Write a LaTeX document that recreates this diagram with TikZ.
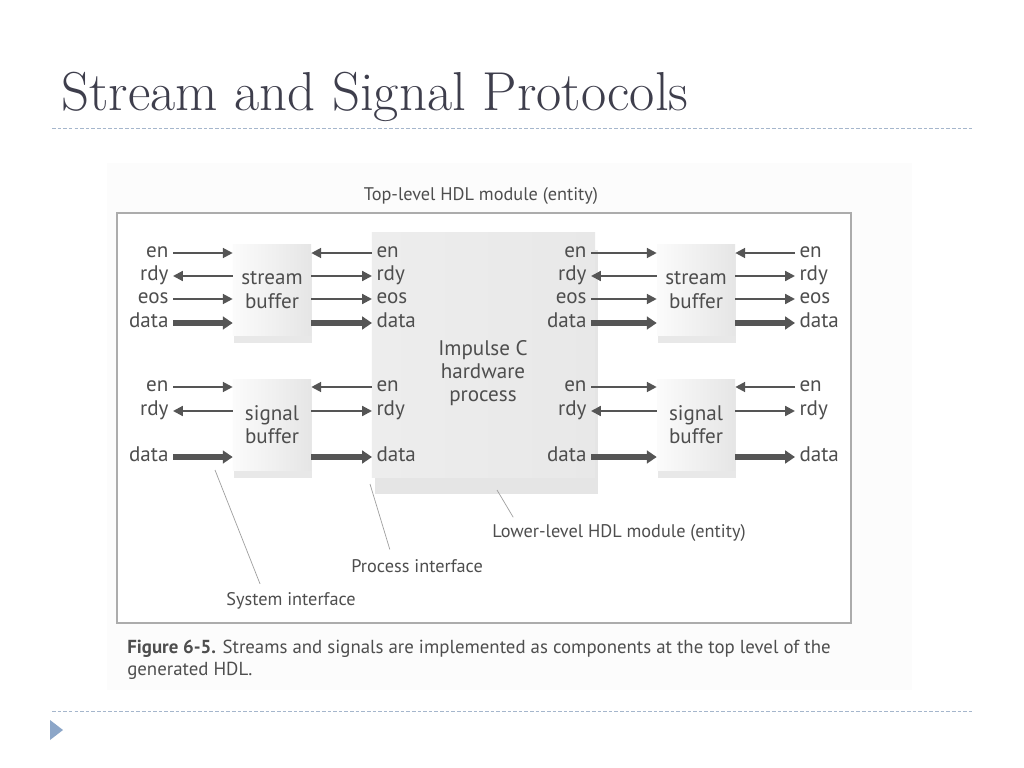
\documentclass[tikz,border=0pt]{standalone}
\usepackage{fontspec}
\newfontfamily\figsf{PT Sans}
\usetikzlibrary{positioning, arrows.meta, shadows, calc}
\definecolor{SlTitle}{RGB}{62,62,76}
\definecolor{SlRule}{RGB}{165,182,204}
\definecolor{SlBullet}{RGB}{140,166,200}
\definecolor{FigInk}{RGB}{78,78,78}
\definecolor{FigArrow}{RGB}{85,85,85}

\begin{document}
\begin{tikzpicture}[x=0.025cm, y=-0.025cm,
          lbl/.style={font=\figsf\fontsize{15}{16.5}\selectfont, text=FigInk,
                      inner ysep=1.5pt, inner xsep=3pt,
                      text height=10pt, text depth=3pt},
          note/.style={font=\figsf\fontsize{13}{15}\selectfont, text=FigInk,
                       inner sep=1.5pt, text height=10pt, text depth=3pt},
          buf/.style={rectangle, minimum width=1.95cm, minimum height=2.25cm,
                      align=center, left color=gray!3, right color=gray!20,
                      font=\figsf\fontsize{15}{16.5}\selectfont, text=FigInk,
                      drop shadow={shadow xshift=1pt, shadow yshift=-6pt,
                                   opacity=.18, fill=gray}},
          arr/.style={-{Triangle[length=7pt, width=7pt]}, draw=FigArrow,
                      line width=1.5pt},
          darr/.style={-{Triangle[length=7pt, width=9pt]}, draw=FigArrow,
                       line width=3.6pt},
          lead/.style={draw=gray!75, line width=0.5pt},
          rule/.style={draw=SlRule, line width=0.6pt, dash pattern=on 2.5pt off 1.5pt}
        ]
        \useasboundingbox (0,0) rectangle (1024,768);
        \fill[white] (0,0) rectangle (1024,768);

        % slide title and rules
        \node[anchor=west, font=\fontsize{39}{44}\selectfont, text=SlTitle,
              inner sep=0pt] (title) at (61,97) {Stream and Signal Protocols};
        \draw[rule] (52,128) -- (972,128);
        \draw[rule] (52,711) -- (972,711);
        \fill[SlBullet] (50,720) -- (63,730) -- (50,740) -- cycle;

        % scanned figure
        \fill[gray!2] (107,163) rectangle (912,690);
        \node[note] (toptxt) at (481,196) {Top-level HDL module (entity)};
        \node[draw=gray!65, line width=1.3pt, fill=white,
              minimum width=18.35cm, minimum height=10.25cm] (top) at (484,418) {};

        \node[rectangle, minimum width=5.575cm, minimum height=6.1cm,
              left color=gray!14, middle color=gray!4, right color=gray!18,
              drop shadow={shadow xshift=2pt, shadow yshift=-12pt,
                           opacity=.2, fill=gray}]
              (proc) at (483.5,355) {};
        \node[lbl, align=center, text height=, text depth=] (ptxt) at (483,373)
              {Impulse C\\hardware\\process};

        \node[buf] (sbl) at (272,290) {stream\\buffer};
        \node[buf] (gbl) at (272,425) {signal\\buffer};
        \node[buf] (sbr) at (696,290) {stream\\buffer};
        \node[buf] (gbr) at (696,425) {signal\\buffer};

        % port labels: a = system left, b = process left,
        % c = process right, d = system right
        \foreach \n/\t/\y in {en/en/253, rdy/rdy/276, eos/eos/299, data/data/323,
                              sen/en/387, srdy/rdy/411, sdata/data/457}{
          \node[lbl, anchor=east] (a\n) at (173,\y) {\t};
          \node[lbl, anchor=west] (b\n) at (372,\y) {\t};
          \node[lbl, anchor=east] (c\n) at (591,\y) {\t};
          \node[lbl, anchor=west] (d\n) at (795,\y) {\t};
        }

        % stream ports
        \foreach \n in {en, eos}{
          \draw[arr] (a\n.east) -- (a\n.east -| sbl.west);
          \draw[arr] (c\n.east) -- (c\n.east -| sbr.west);
        }
        \draw[arr] (ardy.east -| sbl.west) -- (ardy.east);
        \draw[arr] (crdy.east -| sbr.west) -- (crdy.east);
        \draw[darr] (adata.east) -- (adata.east -| sbl.west);
        \draw[darr] (cdata.east) -- (cdata.east -| sbr.west);

        \foreach \n in {rdy, eos}{
          \draw[arr] (b\n.west -| sbl.east) -- (b\n.west);
          \draw[arr] (d\n.west -| sbr.east) -- (d\n.west);
        }
        \draw[arr] (ben.west) -- (ben.west -| sbl.east);
        \draw[arr] (den.west) -- (den.west -| sbr.east);
        \draw[darr] (bdata.west -| sbl.east) -- (bdata.west);
        \draw[darr] (ddata.west -| sbr.east) -- (ddata.west);

        % signal ports
        \draw[arr] (asen.east) -- (asen.east -| gbl.west);
        \draw[arr] (asrdy.east -| gbl.west) -- (asrdy.east);
        \draw[darr] (asdata.east) -- (asdata.east -| gbl.west);
        \draw[arr] (csen.east) -- (csen.east -| gbr.west);
        \draw[arr] (csrdy.east -| gbr.west) -- (csrdy.east);
        \draw[darr] (csdata.east) -- (csdata.east -| gbr.west);

        \draw[arr] (bsen.west) -- (bsen.west -| gbl.east);
        \draw[arr] (bsrdy.west -| gbl.east) -- (bsrdy.west);
        \draw[darr] (bsdata.west -| gbl.east) -- (bsdata.west);
        \draw[arr] (dsen.west) -- (dsen.west -| gbr.east);
        \draw[arr] (dsrdy.west -| gbr.east) -- (dsrdy.west);
        \draw[darr] (dsdata.west -| gbr.east) -- (dsdata.west);

        % callouts
        \node[note, anchor=west] (lowif) at (490,533) {Lower-level HDL module (entity)};
        \node[note, anchor=west] (procif) at (349,568) {Process interface};
        \node[note, anchor=west] (sysif) at (224,601) {System interface};
        \coordinate (lowp)  at (497,490);
        \coordinate (procp) at (370,484);
        \coordinate (sysp)  at (215,470);
        \draw[lead] (lowp)  -- ([xshift=0.58cm, yshift=3pt]lowif.north west);
        \draw[lead] (procp) -- ([xshift=1.02cm, yshift=5pt]procif.north west);
        \draw[lead] (sysp)  -- ([xshift=0.9cm, yshift=4pt]sysif.north west);

        \node[anchor=north west, align=left, inner sep=0pt, text=FigInk,
              font=\figsf\fontsize{13.4}{15.6}\selectfont] (caption) at (127,640)
              {\textbf{Figure 6-5.} Streams and signals are implemented as components at the top level of the\\generated HDL.};
      \end{tikzpicture}
\end{document}
